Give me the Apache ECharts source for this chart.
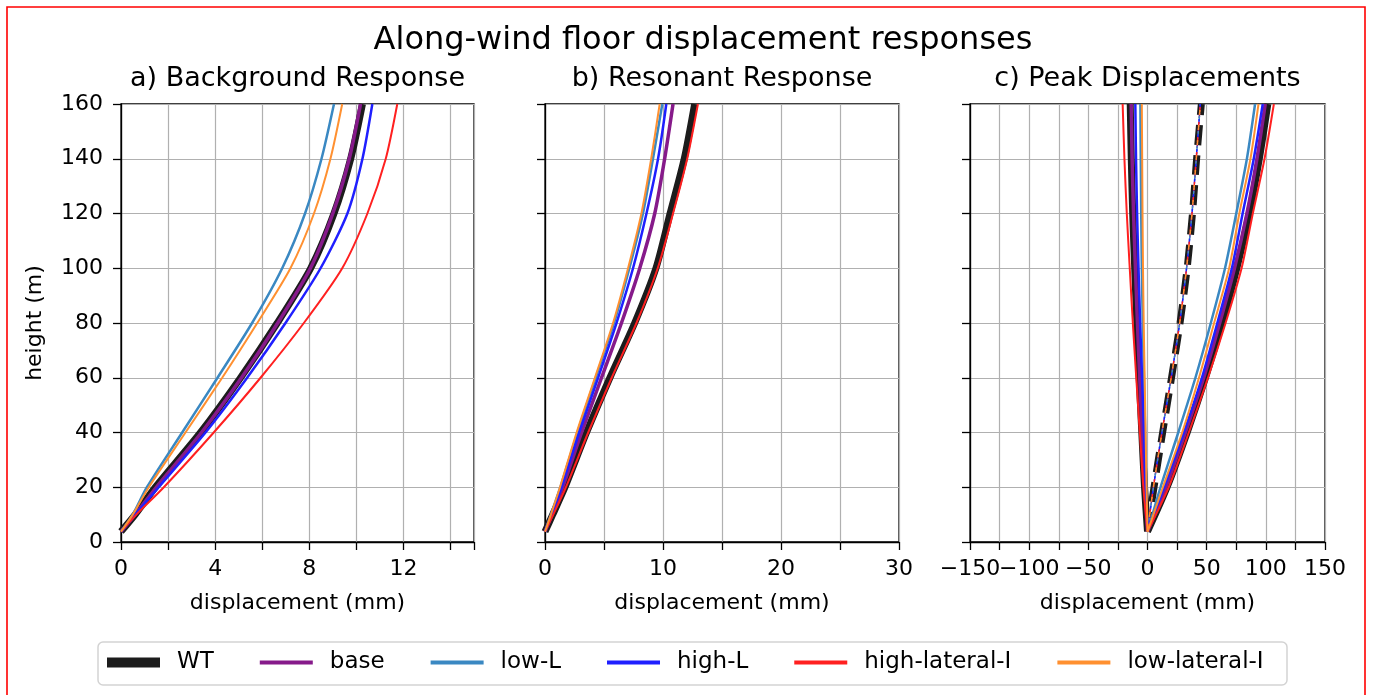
<!DOCTYPE html>
<html>
<head>
<meta charset="utf-8">
<script src="https://cdn.jsdelivr.net/npm/echarts@6.0.0/dist/echarts.min.js"></script>
<style>
  html, body { margin: 0; padding: 0; background: #ffffff; }
  #chart { width: 1373px; height: 695px; }
</style>
</head>
<body>
<div id="chart"></div>
<script>
// ---------------- DATA ----------------
const seriesNames = ['WT', 'base', 'low-L', 'high-L', 'high-lateral-I', 'low-lateral-I'];
const panelTitles = ['a) Background Response', 'b) Resonant Response', 'c) Peak Displacements'];
const mainTitle = 'Along-wind floor displacement responses';

// heights (m) for panels a and b
const heightsAB = [3.8, 10, 20, 40, 60, 80, 100, 120, 140, 160];
// a) background response (mm)
const bgWT      = [0, 0.60, 1.46, 3.38, 5.08, 6.64, 8.06, 9.05, 9.76, 10.26];
const bgBase    = [0, 0.60, 1.50, 3.42, 5.12, 6.66, 8.05, 9.00, 9.70, 10.18];
const bgLowL    = [0, 0.50, 1.10, 2.60, 4.10, 5.57, 6.85, 7.82, 8.52, 9.05];
const bgHighL   = [0, 0.60, 1.60, 3.59, 5.36, 6.99, 8.48, 9.62, 10.26, 10.68];
const bgHighLat = [0, 0.65, 1.82, 3.94, 5.93, 7.77, 9.40, 10.47, 11.25, 11.74];
const bgLowLat  = [0, 0.50, 1.18, 2.74, 4.30, 5.79, 7.20, 8.20, 8.90, 9.40];
// b) resonant response (mm)
const rsWT      = [0, 0.65, 1.69, 3.52, 5.50, 7.60, 9.40, 10.60, 11.80, 12.68];
const rsBase    = [0, 0.60, 1.50, 3.10, 4.79, 6.48, 8.03, 9.30, 10.14, 10.85];
const rsLowL    = [0, 0.50, 1.30, 2.75, 4.30, 5.85, 7.15, 8.30, 9.15, 9.94];
const rsHighL   = [0, 0.55, 1.40, 2.90, 4.50, 6.06, 7.46, 8.60, 9.58, 10.28];
const rsHighLat = [0, 0.70, 1.77, 3.66, 5.65, 7.75, 9.55, 10.85, 12.05, 12.96];
const rsLowLat  = [0, 0.50, 1.27, 2.68, 4.23, 5.77, 7.04, 8.17, 9.00, 9.72];

// heights (m) for panel c
const heightsC = [3.8, 20, 40, 60, 80, 100, 120, 140, 160];
// c) peak displacements (mm): minimum, mean, maximum
const minWT      = [0, -2.5, -4.8, -7.0, -9.0, -10.8, -12.5, -13.7, -14.6];
const minBase    = [0, -2.3, -4.5, -6.6, -8.5, -10.2, -11.8, -13.0, -13.8];
const minLowL    = [0, -1.0, -2.0, -3.0, -4.0, -4.8, -5.3, -5.7, -6.0];
const minHighL   = [0, -1.5, -3.0, -4.6, -6.2, -7.6, -8.8, -9.7, -10.3];
const minHighLat = [0, -3.5, -6.5, -9.5, -12.4, -15.0, -17.5, -19.5, -21.0];
const minLowLat  = [0, -0.8, -1.6, -2.4, -3.2, -3.8, -4.2, -4.5, -4.8];

const meanWT     = [0, 5.5, 12.8, 20.3, 27.5, 33.5, 38.0, 41.5, 45.5];
const meanModels = [0, 5.0, 12.2, 20.0, 27.2, 33.0, 37.6, 41.2, 44.6];

const maxWT      = [0, 16.5, 33.5, 49.0, 63.0, 75.5, 86.0, 94.5, 101.7];
const maxBase    = [0, 15.5, 32.0, 47.5, 61.0, 73.5, 84.0, 92.5, 99.5];
const maxLowL    = [0, 11.0, 26.0, 40.5, 53.5, 65.5, 75.0, 84.0, 90.9];
const maxHighL   = [0, 14.0, 30.7, 46.0, 59.0, 71.3, 80.4, 89.8, 97.4];
const maxHighLat = [0, 17.9, 34.9, 51.1, 66.0, 79.5, 89.0, 98.9, 106.8];
const maxLowLat  = [0, 13.0, 29.3, 43.5, 56.3, 69.0, 77.6, 87.0, 93.8];

// ---------------- STYLE ----------------
const FONT = 'DejaVu Sans';
const models = [
  { name: 'WT',             color: '#1c1c1c', width: 7,   bg: bgWT,      rs: rsWT,      mn: minWT,      mean: meanWT,     mx: maxWT,      dash: [20, 10], meanWidth: 7 },
  { name: 'base',           color: '#861a8a', width: 3.5, bg: bgBase,    rs: rsBase,    mn: minBase,    mean: meanModels, mx: maxBase,    dash: [5, 10],  meanWidth: 1.5 },
  { name: 'low-L',          color: '#3a88c2', width: 2.5, bg: bgLowL,    rs: rsLowL,    mn: minLowL,    mean: meanModels, mx: maxLowL,    dash: [5, 10],  meanWidth: 1.5 },
  { name: 'high-L',         color: '#1f1fff', width: 2.5, bg: bgHighL,   rs: rsHighL,   mn: minHighL,   mean: meanModels, mx: maxHighL,   dash: [5, 10],  meanWidth: 1.5 },
  { name: 'high-lateral-I', color: '#ff2020', width: 2,   bg: bgHighLat, rs: rsHighLat, mn: minHighLat, mean: meanModels, mx: maxHighLat, dash: [5, 10],  meanWidth: 1.5 },
  { name: 'low-lateral-I',  color: '#ff9030', width: 2,   bg: bgLowLat,  rs: rsLowLat,  mn: minLowLat,  mean: meanModels, mx: maxLowLat,  dash: [5, 10],  meanWidth: 1.5 }
];
const legendWidths = [10, 4, 4, 4, 4, 4];

function pairs(xs, hs) { return hs.map((h, i) => [xs[i], h]); }

const grids = [
  { left: 121, top: 104, width: 353, height: 438, show: true, borderColor: '#000', borderWidth: 1.3, backgroundColor: 'transparent' },
  { left: 545, top: 104, width: 354, height: 438, show: true, borderColor: '#000', borderWidth: 1.3, backgroundColor: 'transparent' },
  { left: 970, top: 104, width: 355, height: 438, show: true, borderColor: '#000', borderWidth: 1.3, backgroundColor: 'transparent' }
];

function xAxisCfg(idx, min, max, interval, labelStep) {
  return {
    type: 'value', gridIndex: idx, min: min, max: max, interval: interval,
    name: 'displacement (mm)', nameLocation: 'middle', nameGap: 50,
    nameTextStyle: { fontFamily: FONT, fontSize: 22, color: '#000' },
    axisLine: { show: true, onZero: false, lineStyle: { color: '#000', width: 1.3 } },
    axisTick: { show: true, inside: false, length: 8, lineStyle: { color: '#000', width: 1.3 } },
    axisLabel: {
      show: true, margin: 16, fontFamily: FONT, fontSize: 22, color: '#000',
      showMinLabel: true, showMaxLabel: true,
      formatter: function (v) {
        if (Math.abs(v % labelStep) > 1e-9) return '';
        return String(v).replace('-', '\u2212');
      }
    },
    splitLine: { show: true, lineStyle: { color: '#b0b0b0', width: 1.2 } }
  };
}
function yAxisCfg(idx, showLabels) {
  const c = {
    type: 'value', gridIndex: idx, min: 0, max: 160, interval: 20,
    axisLine: { show: true, onZero: false, lineStyle: { color: '#000', width: 1.3 } },
    axisTick: { show: true, inside: false, length: 8, lineStyle: { color: '#000', width: 1.3 } },
    axisLabel: { show: showLabels, margin: 18, fontFamily: FONT, fontSize: 22, color: '#000' },
    splitLine: { show: true, lineStyle: { color: '#b0b0b0', width: 1.2 } }
  };
  if (showLabels) {
    c.name = 'height (m)';
    c.nameLocation = 'middle';
    c.nameGap = 75;
    c.nameRotate = 90;
    c.nameTextStyle = { fontFamily: FONT, fontSize: 22, color: '#000' };
  }
  return c;
}

const series = [];
models.forEach(function (m, mi) {
  const base = { type: 'line', name: m.name, symbol: 'none', showSymbol: false, smooth: 0.25, animation: false, silent: true };
  series.push(Object.assign({}, base, { xAxisIndex: 0, yAxisIndex: 0, data: pairs(m.bg, heightsAB), lineStyle: { color: m.color, width: m.width }, itemStyle: { color: m.color } }));
  series.push(Object.assign({}, base, { xAxisIndex: 1, yAxisIndex: 1, data: pairs(m.rs, heightsAB), lineStyle: { color: m.color, width: m.width }, itemStyle: { color: m.color } }));
  series.push(Object.assign({}, base, { xAxisIndex: 2, yAxisIndex: 2, data: pairs(m.mn, heightsC), lineStyle: { color: m.color, width: m.width }, itemStyle: { color: m.color } }));
  series.push(Object.assign({}, base, { xAxisIndex: 2, yAxisIndex: 2, data: pairs(m.mean, heightsC), lineStyle: { color: m.color, width: m.meanWidth, type: m.dash, dashOffset: mi * 3 }, itemStyle: { color: m.color } }));
  series.push(Object.assign({}, base, { xAxisIndex: 2, yAxisIndex: 2, data: pairs(m.mx, heightsC), lineStyle: { color: m.color, width: m.width }, itemStyle: { color: m.color } }));
});

const panelCenters = [121 + 353 / 2, 545 + 354 / 2, 970 + 355 / 2];

const option = {
  backgroundColor: '#ffffff',
  animation: false,
  grid: grids,
  xAxis: [
    xAxisCfg(0, 0, 15, 2, 4),
    xAxisCfg(1, 0, 30, 5, 10),
    xAxisCfg(2, -150, 150, 25, 50)
  ],
  yAxis: [yAxisCfg(0, true), yAxisCfg(1, false), yAxisCfg(2, false)],
  legend: {
    left: 102, top: 651, orient: 'horizontal', padding: 0,
    itemWidth: 53, itemHeight: 12, itemGap: 44, z: 10,
    textStyle: { fontFamily: FONT, fontSize: 23, color: '#000', padding: [0, 0, 0, 12] },
    data: seriesNames.map(function (n, i) {
      return { name: n, itemStyle: { opacity: 0 }, lineStyle: { width: legendWidths[i], type: 'solid' } };
    })
  },
  graphic: [
    { type: 'rect', z: -10, shape: { x: 7, y: 7, width: 1358, height: 760 }, style: { fill: 'none', stroke: '#ff0000', lineWidth: 1.6 } },
    { type: 'rect', z: 1, shape: { x: 98, y: 642, width: 1189, height: 43, r: 5 }, style: { fill: '#ffffff', stroke: '#d3d3d3', lineWidth: 1.5 } },
    { type: 'text', x: 703, y: 41, style: { text: mainTitle, font: '32px "' + FONT + '"', fill: '#000', textAlign: 'center', textVerticalAlign: 'middle' } },
    { type: 'text', x: panelCenters[0], y: 79, style: { text: panelTitles[0], font: '27px "' + FONT + '"', fill: '#000', textAlign: 'center', textVerticalAlign: 'middle' } },
    { type: 'text', x: panelCenters[1], y: 79, style: { text: panelTitles[1], font: '27px "' + FONT + '"', fill: '#000', textAlign: 'center', textVerticalAlign: 'middle' } },
    { type: 'text', x: panelCenters[2], y: 79, style: { text: panelTitles[2], font: '27px "' + FONT + '"', fill: '#000', textAlign: 'center', textVerticalAlign: 'middle' } }
  ],
  series: series
};

const chart = echarts.init(document.getElementById('chart'), null, { renderer: 'canvas' });
chart.setOption(option);
</script>
</body>
</html>
